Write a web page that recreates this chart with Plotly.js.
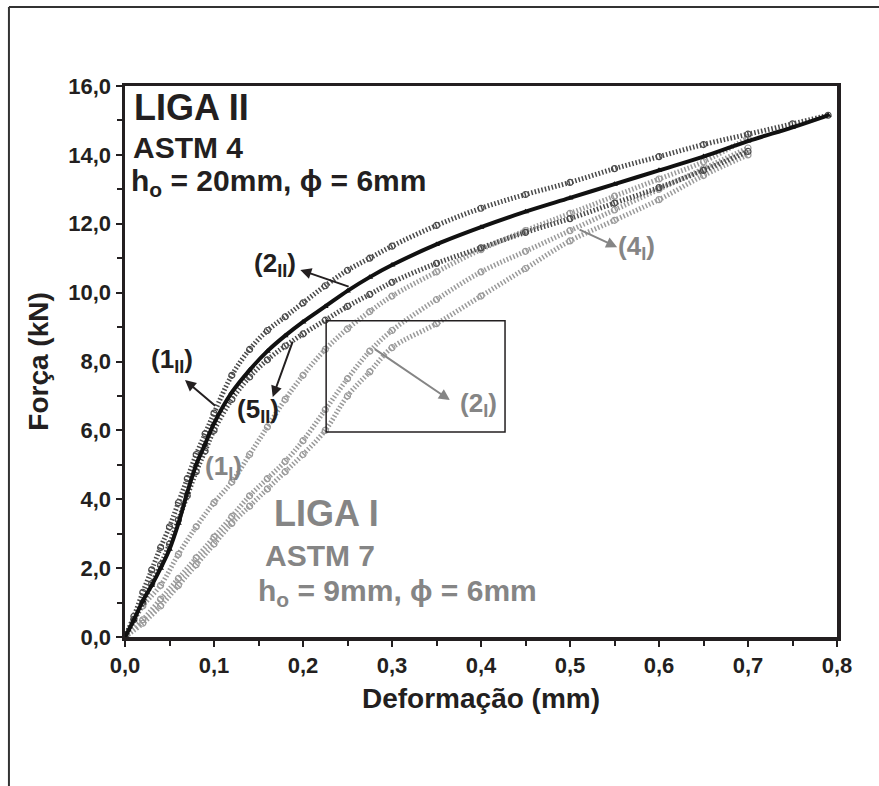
<!DOCTYPE html>
<html>
<head>
<meta charset="utf-8">
<script src="https://cdn.plot.ly/plotly-3.0.1.min.js"></script>
<style>
html,body{margin:0;padding:0;background:#fff;}
#chart{width:879px;height:786px;}
</style>
</head>
<body>
<div id="chart"></div>
<script>
// ---- data ----
const xTicks = [0, 0.1, 0.2, 0.3, 0.4, 0.5, 0.6, 0.7, 0.8];
const xTickText = ["0,0","0,1","0,2","0,3","0,4","0,5","0,6","0,7","0,8"];
const yTicks = [0, 2, 4, 6, 8, 10, 12, 14, 16];
const yTickText = ["0,0","2,0","4,0","6,0","8,0","10,0","12,0","14,0","16,0"];

// Liga II (ASTM 4, h0 = 20 mm)
const xLigaII = [0, 0.01, 0.02, 0.03, 0.04, 0.05, 0.06, 0.07, 0.08, 0.09, 0.10, 0.12, 0.14, 0.16, 0.18, 0.20, 0.225, 0.25, 0.275, 0.30, 0.35, 0.40, 0.45, 0.50, 0.55, 0.60, 0.65, 0.70, 0.75, 0.79];
const y1II = [0, 0.6, 1.3, 1.95, 2.6, 3.2, 3.9, 4.6, 5.3, 5.9, 6.5, 7.6, 8.35, 8.9, 9.3, 9.7, 10.2, 10.65, 11.0, 11.35, 11.95, 12.45, 12.85, 13.2, 13.6, 13.95, 14.3, 14.6, 14.9, 15.15];
const y2II = [0, 0.5, 1.05, 1.5, 2.0, 2.55, 3.3, 4.2, 5.0, 5.6, 6.2, 7.1, 7.75, 8.3, 8.75, 9.15, 9.6, 10.05, 10.45, 10.8, 11.4, 11.9, 12.35, 12.75, 13.15, 13.55, 13.95, 14.4, 14.8, 15.15];
const x5II = [0, 0.01, 0.02, 0.03, 0.04, 0.05, 0.06, 0.07, 0.08, 0.09, 0.10, 0.12, 0.14, 0.16, 0.18, 0.20, 0.225, 0.25, 0.275, 0.30, 0.35, 0.40, 0.45, 0.50, 0.55, 0.60, 0.65, 0.70];
const y5II = [0, 0.5, 1.0, 1.55, 2.1, 2.7, 3.4, 4.1, 4.8, 5.4, 6.0, 6.9, 7.55, 8.05, 8.45, 8.8, 9.2, 9.6, 9.95, 10.3, 10.85, 11.3, 11.75, 12.15, 12.6, 13.05, 13.55, 14.1];

// Liga I (ASTM 7, h0 = 9 mm)
const xLigaI = [0, 0.02, 0.04, 0.06, 0.08, 0.10, 0.12, 0.14, 0.16, 0.18, 0.20, 0.225, 0.25, 0.275, 0.30, 0.35, 0.40, 0.45, 0.50, 0.55, 0.60, 0.65, 0.70];
const y1I = [0, 0.9, 1.5, 2.4, 3.2, 3.9, 4.5, 5.3, 6.1, 6.9, 7.6, 8.35, 8.95, 9.45, 9.9, 10.6, 11.25, 11.8, 12.3, 12.8, 13.3, 13.8, 14.5];
const y2I = [0, 0.5, 1.1, 1.7, 2.3, 2.9, 3.5, 4.1, 4.6, 5.1, 5.7, 6.6, 7.5, 8.3, 8.9, 9.8, 10.6, 11.2, 11.8, 12.4, 13.0, 13.6, 14.2];
const y4I = [0, 0.4, 0.9, 1.5, 2.1, 2.7, 3.3, 3.8, 4.3, 4.8, 5.3, 6.0, 7.0, 7.7, 8.4, 9.1, 9.9, 10.7, 11.5, 12.1, 12.7, 13.4, 14.0];

// ---- styling ----
const FONT = "Arial, 'Liberation Sans', sans-serif";
const DARK = "#231f20";
const GREY = "#858585";
const cII = "#4a4a4a";
const cI = "#9a9a9a";

function circTrace(x, y, col) {
  return {
    x: x, y: y, type: "scatter", mode: "lines+markers",
    line: {shape: "spline", width: 5, color: col, dash: "1.5px,2px"},
    marker: {symbol: "circle-open", size: 6, color: col, line: {width: 1.2, color: col}},
    hoverinfo: "skip"
  };
}

const traces = [
  circTrace(xLigaI, y2I, cI),
  circTrace(xLigaI, y4I, cI),
  circTrace(xLigaI, y1I, cI),
  circTrace(x5II, y5II, cII),
  circTrace(xLigaII, y1II, cII),
  {
    x: xLigaII, y: y2II, type: "scatter", mode: "lines+markers",
    line: {shape: "spline", width: 4, color: "#111"},
    marker: {symbol: "triangle-up", size: 6, color: "#111"},
    hoverinfo: "skip"
  }
];

function txt(x, y, text, size, color, anchor) {
  return {x: x, y: y, xref: "x", yref: "y", text: text, showarrow: false,
    xanchor: anchor || "left", yanchor: "middle",
    font: {family: FONT, size: size, color: color, weight: "bold"}};
}
function arrow(xTip, yTip, xTail, yTail, color) {
  return {x: xTip, y: yTip, ax: xTail, ay: yTail, xref: "x", yref: "y", axref: "x", ayref: "y",
    text: "", showarrow: true, arrowhead: 2, arrowsize: 1.1, arrowwidth: 2, arrowcolor: color};
}

const annotations = [
  txt(0.008, 15.39, "LIGA II", 36, DARK),
  txt(0.007, 14.21, "ASTM 4", 30, DARK),
  txt(0.005, 13.2, "h<sub>o</sub> = 20mm, ϕ = 6mm", 30, DARK),
  txt(0.165, 3.58, "LIGA I", 36, GREY),
  txt(0.155, 2.36, "ASTM 7", 30, GREY),
  txt(0.147, 1.3, "h<sub>o</sub> = 9mm, ϕ = 6mm", 30, GREY),

  txt(0.1685, 10.83, "(2<sub>II</sub>)", 26, DARK, "center"),
  txt(0.053, 8.04, "(1<sub>II</sub>)", 26, DARK, "center"),
  txt(0.149, 6.59, "(5<sub>II</sub>)", 26, DARK, "center"),
  txt(0.111, 4.91, "(1<sub>I</sub>)", 26, GREY, "center"),
  txt(0.397, 6.74, "(2<sub>I</sub>)", 26, GREY, "center"),
  txt(0.575, 11.32, "(4<sub>I</sub>)", 26, GREY, "center"),

  arrow(0.197, 10.66, 0.253, 10.16, DARK),
  arrow(0.0674, 7.46, 0.103, 6.68, DARK),
  arrow(0.166, 6.97, 0.189, 8.62, DARK),
  arrow(0.365, 6.88, 0.279, 8.39, GREY),
  arrow(0.553, 11.32, 0.509, 11.85, GREY)
];

const shapes = [
  {type: "rect", xref: "x", yref: "y", x0: 0.226, x1: 0.427, y0: 5.95, y1: 9.18,
   line: {color: DARK, width: 1.5}},
  // outer figure frame (top and left edges)
  {type: "line", xref: "paper", yref: "paper", x0: -0.163, x1: 1.07, y0: 1.1434, y1: 1.1434,
   line: {color: "#333", width: 2}},
  {type: "line", xref: "paper", yref: "paper", x0: -0.163, x1: -0.163, y0: 1.1434, y1: -0.28,
   line: {color: "#333", width: 2}}
];

const layout = {
  width: 879, height: 786,
  margin: {l: 125, r: 42, t: 86, b: 149},
  paper_bgcolor: "#fff", plot_bgcolor: "#fff",
  showlegend: false,
  font: {family: FONT, color: DARK},
  xaxis: {
    range: [0, 0.8], tickvals: xTicks, ticktext: xTickText,
    ticks: "outside", ticklen: 6, tickwidth: 2, tickcolor: DARK,
    minor: {dtick: 0.05, ticks: "outside", ticklen: 5, tickwidth: 2, tickcolor: DARK},
    showline: true, linewidth: 3.5, linecolor: DARK, mirror: true,
    showgrid: false, zeroline: false,
    tickfont: {family: FONT, size: 22, color: DARK, weight: "bold"},
    title: {text: "Deformação (mm)", standoff: 12, font: {family: FONT, size: 28, color: DARK, weight: "bold"}}
  },
  yaxis: {
    range: [0, 16], tickvals: yTicks, ticktext: yTickText,
    ticks: "outside", ticklen: 6, tickwidth: 2, tickcolor: DARK,
    minor: {dtick: 1, ticks: "outside", ticklen: 5, tickwidth: 2, tickcolor: DARK},
    showline: true, linewidth: 3.5, linecolor: DARK, mirror: true,
    showgrid: false, zeroline: false,
    tickfont: {family: FONT, size: 22, color: DARK, weight: "bold"},
    title: {text: "Força (kN)", standoff: 12, font: {family: FONT, size: 28, color: DARK, weight: "bold"}}
  },
  annotations: annotations,
  shapes: shapes
};

Plotly.newPlot("chart", traces, layout, {staticPlot: true, displayModeBar: false});
</script>
</body>
</html>
